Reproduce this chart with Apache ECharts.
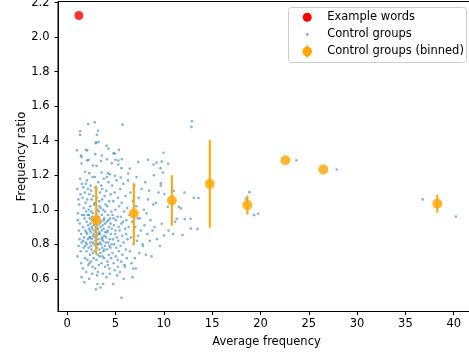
<!DOCTYPE html>
<html>
<head>
<meta charset="utf-8">
<script src="https://cdn.jsdelivr.net/npm/echarts@6/dist/echarts.min.js"></script>
<style>
  html, body { margin: 0; padding: 0; background: #fff; }
  #chart { width: 469px; height: 356px; }
</style>
</head>
<body>
<div id="chart"></div>
<script>
// Example words: [average frequency, frequency ratio]
const exampleWords = [[1.21, 2.125]];

// Control groups: one [average frequency, frequency ratio] pair per group
const controlGroups = [
  // upper band
  [1.34,1.455],[1.34,1.434],[2.17,1.497],[2.86,1.507],[3.2,1.458],[3.07,1.434],[5.73,1.493],[1.0,1.344],
  [1.96,1.347],[2.07,1.343],[1.42,1.314],[1.49,1.305],[2.21,1.289],[2.07,1.285],[1.49,1.268],[2.9,1.322],
  [3.0,1.391],[3.25,1.393],[2.97,1.385],[4.07,1.37],[4.28,1.354],[4.8,1.328],[4.93,1.324],[5.35,1.347],
  [5.0,1.289],[5.3,1.285],[5.66,1.293],[4.11,1.293],[3.59,1.314],[3.49,1.282],[2.66,1.256],[3.04,1.254],
  [4.62,1.27],[5.28,1.262],[5.62,1.241],[6.48,1.239],[7.35,1.276],[8.38,1.289],[8.93,1.262],[9.25,1.273],
  [1.86,1.22],[2.28,1.212],[3.56,1.216],[4.21,1.212],[4.42,1.206],[4.93,1.197],[5.55,1.187],[6.31,1.21],
  // sparse groups at higher frequency
  [12.9,1.513],[12.86,1.48],[9.97,1.33],[9.79,1.279],[10.45,1.266],[9.9,1.216],[9.66,1.241],[9.69,1.154],
  [9.69,1.14],[10.07,1.091],[11.03,1.11],[12.14,1.1],[13.1,1.069],[13.59,1.068],[10.41,1.017],[11.55,1.017],
  [11.76,1.008],[12.17,0.946],[12.76,0.948],[11.34,0.948],[11.17,0.931],[9.79,0.919],[12.79,0.892],[13.48,0.888],
  [9.59,0.79],[10.03,0.851],[10.96,0.86],[11.93,0.854],[10.49,0.88],[18.86,1.102],[18.5,1.065],[19.34,0.969],
  [19.75,0.977],[23.72,1.287],[27.89,1.233],[36.78,1.06],[40.23,0.961],
  // main cloud
  [1.05,1.12],[1.12,0.98],[1.18,0.79],[1.07,0.73],[1.25,1.03],[1.31,0.92],[1.38,1.09],[1.44,0.86],
  [1.49,0.61],[1.52,1.15],[1.22,0.88],[1.4,0.76],[1.55,0.97],[1.34,1.18],[1.16,1.06],[1.46,0.69],
  [1.28,0.83],[1.58,1.07],[1.1,0.94],[1.5,0.81],
  [1.62,0.66],[1.65,0.9],[1.68,1.13],[1.7,0.78],[1.72,1.01],[1.75,0.84],[1.78,0.58],[1.8,0.95],
  [1.83,1.1],[1.85,0.72],[1.88,0.88],[1.9,1.04],[1.92,0.81],[1.95,0.99],[1.97,0.64],[2.0,0.76],
  [2.02,0.93],[2.04,1.17],[2.06,0.86],[2.08,1.06],[2.1,0.71],[2.12,0.97],[2.14,0.83],[2.16,1.12],
  [2.18,0.91],[1.64,0.82],[1.74,0.97],[1.86,0.79],[1.98,0.87],[2.05,0.8],[1.93,1.15],[2.19,0.68],
  [2.21,0.78],[2.23,1.0],[2.25,0.89],[2.27,0.6],[2.29,1.09],[2.31,0.84],[2.33,0.95],[2.35,0.74],
  [2.37,1.02],[2.39,0.81],[2.41,0.92],[2.43,1.14],[2.45,0.7],[2.47,0.87],[2.49,0.99],[2.51,0.77],
  [2.53,1.06],[2.55,0.83],[2.57,0.94],[2.59,0.63],[2.61,0.89],[2.63,1.19],[2.65,0.75],[2.67,0.98],
  [2.69,0.85],[2.71,1.08],[2.73,0.72],[2.75,0.91],[2.77,0.8],[2.79,1.03],[2.24,0.97],[2.36,0.88],
  [2.44,0.79],[2.52,0.9],[2.58,0.96],[2.66,0.81],[2.74,0.86],[2.3,0.69],[2.48,1.11],[2.62,0.67],
  [2.78,0.94],[2.4,0.84],
  [2.81,0.88],[2.83,0.76],[2.85,1.04],[2.87,0.93],[2.89,0.66],[2.91,0.82],[2.93,1.13],[2.95,0.9],
  [2.97,0.54],[2.99,0.79],[3.01,0.97],[3.03,0.71],[3.05,1.07],[3.07,0.85],[3.09,0.94],[3.11,0.62],
  [3.13,0.8],[3.14,0.57],[3.15,1.0],[3.17,0.74],[3.19,0.89],[3.21,1.16],[3.23,0.83],[3.25,0.96],
  [3.27,0.68],[3.29,0.87],[3.31,1.05],[3.33,0.77],[3.35,0.92],[3.37,0.81],[3.39,1.1],[2.84,0.84],
  [2.92,0.95],[2.98,0.87],[3.06,0.78],[3.12,0.91],[3.2,0.8],[3.28,0.99],[3.36,0.73],[2.88,1.19],
  [3.02,1.12],[3.18,0.64],[3.26,0.86],[3.34,1.02],[3.04,0.89],
  [3.41,0.86],[3.43,0.75],[3.45,0.55],[3.47,1.01],[3.49,0.93],[3.51,0.8],[3.53,1.14],[3.55,0.69],
  [3.57,0.88],[3.59,0.97],[3.61,0.78],[3.63,1.06],[3.65,0.84],[3.67,0.91],[3.69,0.63],[3.71,0.82],
  [3.72,0.57],[3.73,1.0],[3.75,0.76],[3.77,0.89],[3.79,1.18],[3.81,0.72],[3.83,0.95],[3.85,0.85],
  [3.87,1.08],[3.89,0.79],[3.91,0.92],[3.93,0.67],[3.95,0.87],[3.97,1.03],[3.99,0.81],[3.44,0.9],
  [3.58,0.83],[3.66,0.73],[3.76,0.94],[3.84,0.77],[3.92,0.99],[3.62,1.12],
  [4.02,0.84],[4.05,1.11],[4.07,0.61],[4.09,0.93],[4.12,0.77],[4.15,1.02],[4.17,0.7],[4.2,0.88],
  [4.23,0.97],[4.25,0.81],[4.28,1.16],[4.3,0.74],[4.33,0.9],[4.35,1.05],[4.38,0.66],[4.4,0.83],
  [4.42,0.63],[4.44,0.95],[4.47,0.78],[4.5,1.09],[4.52,0.86],[4.55,0.72],[4.57,0.99],[4.59,0.8],
  [4.1,1.19],[4.22,0.68],[4.36,0.79],[4.48,0.92],[4.13,0.87],[4.27,0.94],
  [4.62,0.89],[4.65,1.14],[4.68,0.75],[4.7,0.97],[4.73,0.83],[4.76,0.57],[4.78,1.05],[4.81,0.69],
  [4.84,0.91],[4.87,0.8],[4.9,1.1],[4.93,0.65],[4.96,0.86],[4.99,1.0],[5.02,0.73],[5.05,0.94],
  [5.08,0.78],[5.11,1.17],[5.14,0.84],[5.17,0.62],[5.2,0.96],[5.23,0.71],[5.26,1.07],[5.29,0.82],
  [5.32,0.9],[5.35,0.76],[5.38,1.02],[4.8,0.95],[5.0,0.88],[5.24,0.67],
  [5.42,0.88],[5.45,0.64],[5.48,1.12],[5.52,0.79],[5.55,0.96],[5.58,0.7],[5.62,0.49],[5.65,1.04],
  [5.69,0.85],[5.72,0.74],[5.76,0.93],[5.8,1.15],[5.84,0.81],[5.88,0.99],[5.92,0.68],[5.97,0.67],
  [6.0,0.89],[6.04,1.08],[6.08,0.77],[6.12,0.94],[6.16,0.72],[6.2,1.01],[6.25,0.83],[6.3,1.17],
  [6.35,0.9],[5.6,0.92],[5.85,0.6],[6.1,0.86],
  [6.45,0.97],[6.5,0.76],[6.55,1.1],[6.6,0.84],[6.66,0.69],[6.72,0.93],[6.76,0.61],[6.8,1.05],
  [6.83,0.66],[6.88,0.8],[6.95,1.14],[7.0,0.72],[7.05,0.9],[7.1,0.66],[7.15,1.02],[7.18,1.19],
  [7.22,0.82],[7.3,0.95],[7.34,0.85],[7.4,1.07],[7.46,0.75],[7.52,0.95],
  [7.62,0.88],[7.7,1.12],[7.78,0.8],[7.86,0.79],[7.93,1.0],[8.0,0.91],[8.08,1.16],[8.15,0.74],
  [8.21,0.98],[8.3,0.86],[8.38,1.06],[8.48,1.11],[8.55,0.82],[8.62,0.94],[8.73,0.73],[8.83,0.88],
  [8.9,1.03],[8.97,1.2],[9.05,0.9],[9.17,1.04],[9.3,0.83],[9.45,1.1]
];

// Control groups binned by average frequency: centre, mean ratio, error bar ends
const binX    = [3.0,   6.9,   10.83, 14.76, 18.65, 22.58, 26.5,  38.3];
const binMean = [0.94,  0.979, 1.054, 1.15,  1.027, 1.287, 1.233, 1.035];
const binLow  = [0.74,  0.80,  0.907, 0.896, 0.973, 1.287, 1.233, 0.984];
const binHigh = [1.139, 1.154, 1.20,  1.405, 1.083, 1.287, 1.233, 1.087];

// Axis ticks
const xTicks = [0, 5, 10, 15, 20, 25, 30, 35, 40];
const yTicks = [0.6, 0.8, 1.0, 1.2, 1.4, 1.6, 1.8, 2.0, 2.2];

const FONT = 'DejaVu Sans';
const ORANGE = '#FFA500';
const BLUE = 'rgba(31,119,180,0.7)';

const chart = echarts.init(document.getElementById('chart'), null, { renderer: 'canvas' });

const binned = binX.map((x, i) => [x, binMean[i], binLow[i], binHigh[i]]);

const axisCommon = {
  axisLine: { show: true, onZero: false, lineStyle: { color: '#000', width: 1 } },
  axisTick: { show: true, length: 3.5, inside: false, lineStyle: { color: '#000', width: 1 } },
  splitLine: { show: false },
  nameMoveOverlap: false,
  nameTextStyle: { color: '#000', fontFamily: FONT, fontSize: 11.5 }
};

const option = {
  animation: false,
  backgroundColor: '#fff',
  grid: {
    left: 58, top: 1.5, width: 417, height: 310,
    outerBoundsMode: 'none', containLabel: false,
    show: true, borderColor: '#000', borderWidth: 1, backgroundColor: 'transparent'
  },
  xAxis: Object.assign({}, axisCommon, {
    type: 'value', min: -0.95, max: 42.2,
    name: 'Average frequency', nameLocation: 'middle', nameGap: 25,
    axisTick: Object.assign({}, axisCommon.axisTick, { customValues: xTicks }),
    axisLabel: { customValues: xTicks, color: '#000', fontFamily: FONT, fontSize: 11.5, margin: 7 }
  }),
  yAxis: Object.assign({}, axisCommon, {
    type: 'value', min: 0.411, max: 2.206,
    name: 'Frequency ratio', nameLocation: 'middle', nameGap: 30, nameRotate: 90,
    axisTick: Object.assign({}, axisCommon.axisTick, { customValues: yTicks }),
    axisLabel: {
      customValues: yTicks, color: '#000', fontFamily: FONT, fontSize: 11.5, margin: 8.5,
      formatter: v => v.toFixed(1)
    }
  }),
  series: [
    {
      name: 'Example words', type: 'scatter', data: exampleWords,
      symbol: 'circle', symbolSize: 9, itemStyle: { color: '#FF0000' }, z: 2
    },
    {
      name: 'Control groups', type: 'scatter', data: controlGroups,
      symbol: 'circle', symbolSize: 2.6, itemStyle: { color: BLUE }, z: 2
    },
    {
      name: 'Control groups (binned) error', type: 'custom', data: binned, z: 3,
      encode: { x: 0, y: [2, 3] },
      renderItem: function (params, api) {
        const x = api.value(0);
        const p1 = api.coord([x, api.value(2)]);
        const p2 = api.coord([x, api.value(3)]);
        return {
          type: 'line',
          shape: { x1: p1[0], y1: p1[1], x2: p2[0], y2: p2[1] },
          style: { stroke: ORANGE, lineWidth: 2 }
        };
      }
    },
    {
      name: 'Control groups (binned)', type: 'scatter', data: binned.map(d => [d[0], d[1]]),
      symbol: 'circle', symbolSize: 10, itemStyle: { color: ORANGE }, z: 4
    }
  ],
  graphic: [
    {
      type: 'group', left: 288, top: 7, z: 100,
      children: [
        { type: 'rect', shape: { x: 0, y: 0, width: 178, height: 55, r: 3 },
          style: { fill: 'rgba(255,255,255,0.8)', stroke: '#cccccc', lineWidth: 1 } },
        { type: 'circle', shape: { cx: 18.7, cy: 9.7, r: 4.5 }, style: { fill: '#FF0000' } },
        { type: 'text', x: 38.7, y: 9.7, style: { text: 'Example words', fill: '#000', font: '11.5px "DejaVu Sans"', verticalAlign: 'middle' } },
        { type: 'circle', shape: { cx: 18.7, cy: 27, r: 1.3 }, style: { fill: BLUE } },
        { type: 'text', x: 38.7, y: 27, style: { text: 'Control groups', fill: '#000', font: '11.5px "DejaVu Sans"', verticalAlign: 'middle' } },
        { type: 'line', shape: { x1: 18.7, y1: 38, x2: 18.7, y2: 50 }, style: { stroke: ORANGE, lineWidth: 2 } },
        { type: 'circle', shape: { cx: 18.7, cy: 44, r: 4.8 }, style: { fill: ORANGE } },
        { type: 'text', x: 38.7, y: 44, style: { text: 'Control groups (binned)', fill: '#000', font: '11.5px "DejaVu Sans"', verticalAlign: 'middle' } }
      ]
    }
  ]
};

chart.setOption(option);
</script>
</body>
</html>
